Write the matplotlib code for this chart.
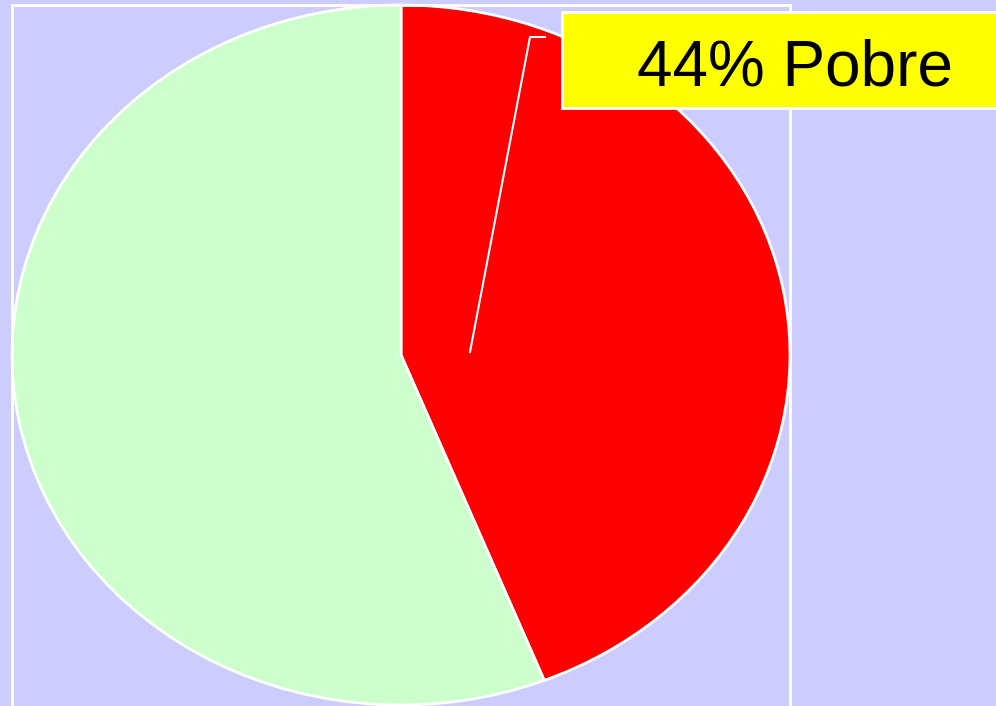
import matplotlib.pyplot as plt
from matplotlib.patches import Rectangle
from matplotlib.lines import Line2D

# data
labels = ['Pobre', 'No pobre']
values = [44, 56]
colors = ['#FF0000', '#CCFFCC']

W, H = 996, 706
fig = plt.figure(figsize=(W / 100, H / 100), dpi=100)
fig.patch.set_facecolor('#CCCCFF')

# axes box matches the ellipse bounding box (pixels: x 12..790, y 5..705)
ax = fig.add_axes([12 / W, 1 / H, 778 / W, 700 / H])
ax.pie(values, colors=colors, startangle=90, counterclock=False,
       wedgeprops=dict(edgecolor='white', linewidth=2))
ax.set_aspect('auto')
ax.set_xlim(-1, 1)
ax.set_ylim(-1, 1)
ax.set_facecolor('none')
ax.set_frame_on(True)
for s in ax.spines.values():
    s.set_color('white')
    s.set_linewidth(2)
ax.spines['bottom'].set_visible(False)

def fx(px):
    return px / W

def fy(py):
    return 1 - py / H

# leader line
fig.add_artist(Line2D([fx(470), fx(530), fx(545)], [fy(352), fy(37), fy(37)],
                      color='white', lw=1.5))

# label box
fig.add_artist(Rectangle((fx(562), fy(108)), fx(996) - fx(562) + 0.01, fy(12) - fy(108),
                         facecolor='#FFFF00', edgecolor='white', lw=2))
fig.text(fx(795), fy(85), '%d%% %s' % (values[0], labels[0]), ha='center', va='baseline',
         fontsize=46, family='Liberation Sans', color='black')

fig.savefig('out.png', dpi=100, facecolor=fig.get_facecolor())
